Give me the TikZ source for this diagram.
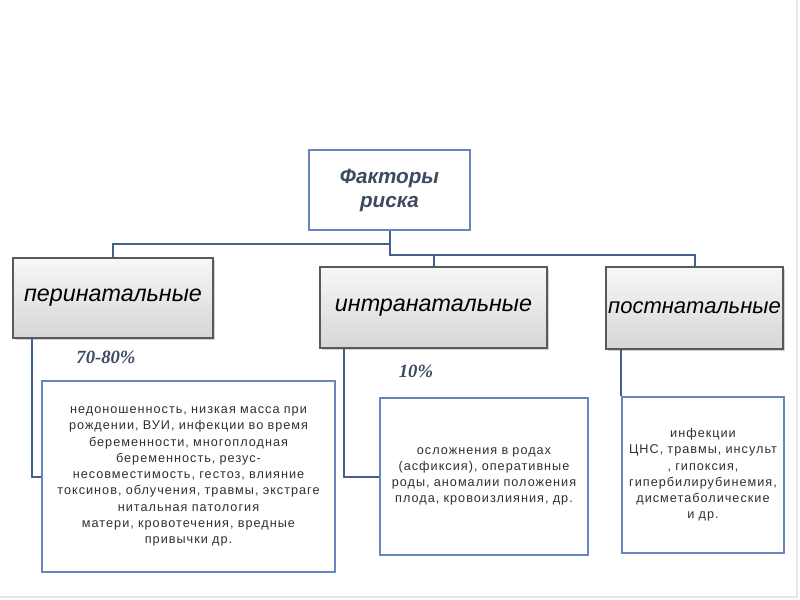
\documentclass[tikz,border=0pt]{standalone}
\usepackage{fontspec}
\setmainfont{Liberation Sans}
\newfontfamily\testofont[LetterSpace=8]{Liberation Sans}
\newfontfamily\cifrefont{Liberation Serif}
\usepackage{tikz}
\usetikzlibrary{calc,positioning,shadows}
\usepackage{xcolor}
\definecolor{bordoblu}{RGB}{104,134,190}
\definecolor{lineablu}{RGB}{66,96,140}
\definecolor{ardesia}{RGB}{62,74,98}
\definecolor{testogrigio}{RGB}{48,48,48}

\tikzset{
  titolo/.style={draw=bordoblu, line width=1.5pt, fill=white, minimum width=120.75pt,
    minimum height=60pt, align=center, text=ardesia,
    font=\fontsize{15.5}{18}\selectfont\bfseries\itshape},
  fase/.style={draw=gray!70!black, line width=0.8pt, top color=gray!6, bottom color=gray!32,
    drop shadow={opacity=0.35, shadow xshift=1.2pt, shadow yshift=-1.2pt},
    inner sep=0pt, font=\fontsize{17.5}{19}\selectfont\itshape},
  dettaglio/.style={draw=bordoblu, line width=1.5pt, fill=white, align=center,
    inner sep=0pt, text=testogrigio, font=\testofont\fontsize{9.5}{12.2}\selectfont},
  link/.style={draw=lineablu, line width=1.5pt},
  perc/.style={text=ardesia, font=\cifrefont\fontsize{14}{16}\selectfont\bfseries\itshape}
}

\begin{document}
\begin{tikzpicture}[x=0.75pt, y=-0.75pt]
\useasboundingbox (0,0) rectangle (800,600);
\draw[gray!20, line width=1pt] (797,0) -- (797,597) -- (0,597);
% --- nodo principale ---
\node[titolo] (rischio) at (389.5,190) {Факторы\\риска};
% --- periodi ---
\node[fase, minimum width=150pt, minimum height=60pt] (peri) at (113,298) {перинатальные};
\node[fase, minimum width=170.25pt, minimum height=60.75pt] (intra) at (433.5,307.5) {интранатальные};
\node[fase, minimum width=132.75pt, minimum height=61.5pt, font=\fontsize{16.5}{18}\selectfont\itshape] (post) at (694.5,308) {постнатальные};
\coordinate (ramo) at ($(rischio.south)+(0,24)$);
\draw[link] (rischio.south) -- ++(0,13) -| (peri.north);
\draw[link] (rischio.south) -- (ramo) -| (post.north);
\draw[link] (intra.north) -- (intra.north |- ramo);
% --- percentuali ---
\node[perc] (perc1) at (106,357) {70-80\%};
\node[perc] (perc2) at (416,371) {10\%};
% --- fattori ---
\node[dettaglio, text width=214pt, minimum width=219.75pt, minimum height=143.25pt] (peritesto) at (188.5,476.5)
  {недоношенность, низкая масса при\\рождении, ВУИ, инфекции во время\\беременности, многоплодная\\беременность, резус-\\несовместимость, гестоз, влияние\\токсинов, облучения, травмы, экстраге\\нитальная патология\\матери, кровотечения, вредные\\привычки др.};
\node[dettaglio, text width=154pt, minimum width=156pt, minimum height=117.75pt] (intratesto) at (484,476.5)
  {осложнения в родах\\(асфиксия), оперативные\\роды, аномалии положения\\плода, кровоизлияния, др.};
\node[dettaglio, text width=120pt, minimum width=121.5pt, minimum height=117pt] (posttesto) at (703,475)
  {инфекции\\ЦНС, травмы, инсульт\\, гипоксия,\\гипербилирубинемия,\\дисметаболические\\и др.};
\draw[link] ($(peri.south west)+(20,0)$) |- (peritesto.west);
\draw[link] ($(intra.south west)+(25,0)$) |- (intratesto.west);
\draw[link] (posttesto.north west |- post.south) -- (posttesto.north west);
\end{tikzpicture}
\end{document}
